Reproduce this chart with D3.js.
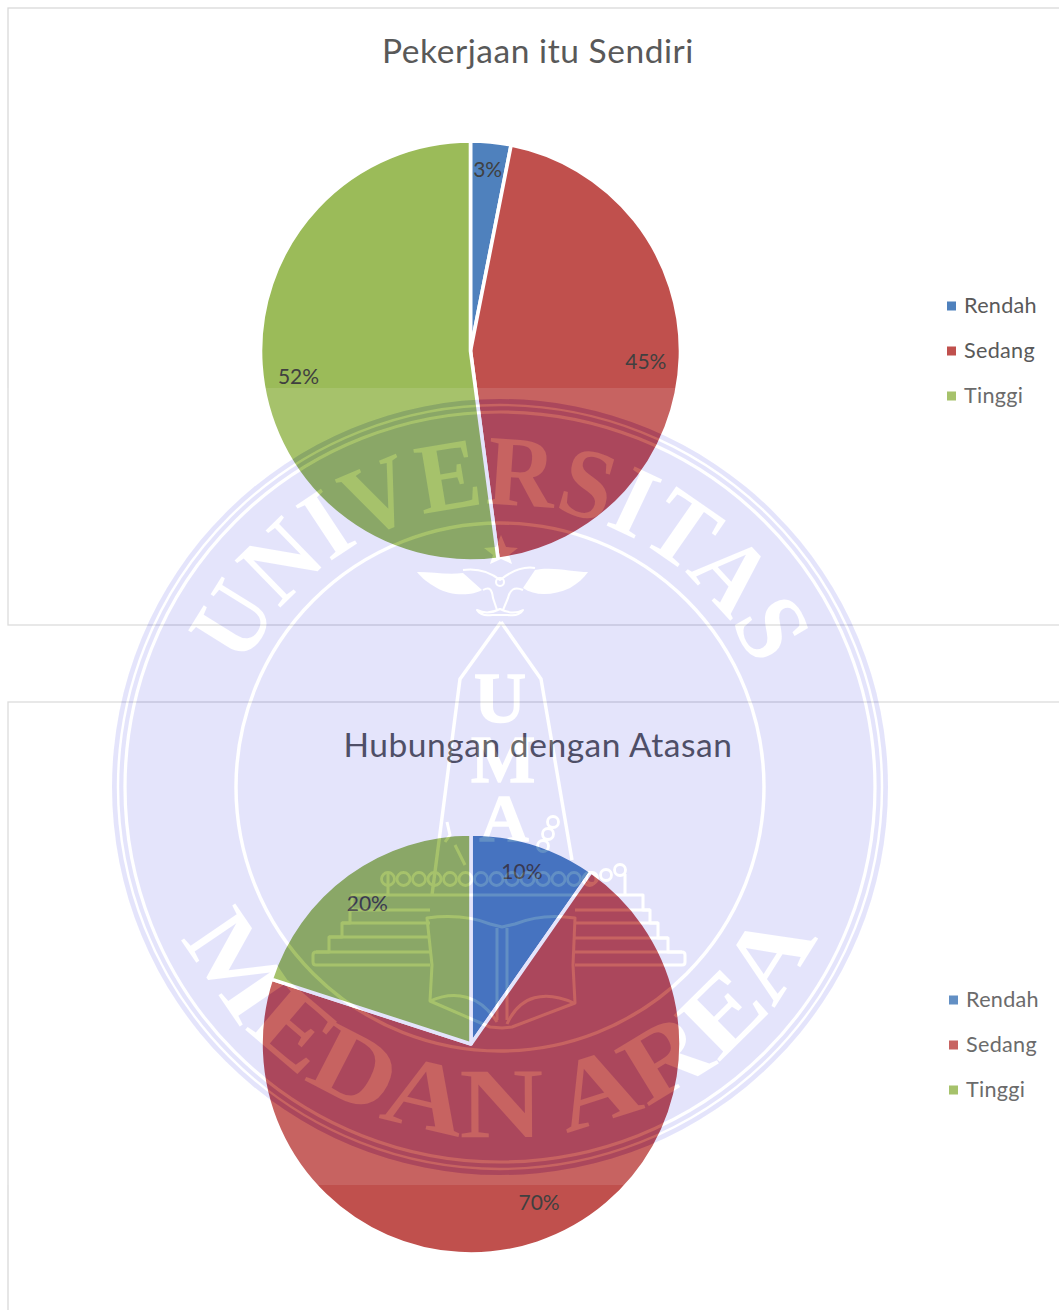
<!DOCTYPE html>
<html><head><meta charset="utf-8">
<script src="https://cdn.jsdelivr.net/npm/d3@7/dist/d3.min.js"></script>
<style>html,body{margin:0;padding:0;background:#fff}svg{display:block}text{font-family:Lato,sans-serif}</style>
</head><body><svg id="c" width="1059" height="1310"></svg>
<script>
const categories = ["Rendah","Sedang","Tinggi"];
const colors = ["#4f81bd","#c0504d","#9bbb59"];
const titleTop = "Pekerjaan itu Sendiri";
const valuesTop = [3.1,44.8,52.1];
const titleBottom = "Hubungan dengan Atasan";
const valuesBottom = [9.7,70.3,20.0];

const svg = d3.select("#c");
const W = 1059, H = 1310;

function chart(o){
  const g = svg.append("g");
  g.append("rect").attr("x",o.fx).attr("y",o.fy).attr("width",W+10-o.fx).attr("height",o.fh)
    .attr("fill","#fff").attr("stroke","#d9d9d9").attr("stroke-width",1.3);
  g.append("text").attr("x",538).attr("y",o.ty).attr("text-anchor","middle")
    .attr("font-size",33.5).attr("letter-spacing",0.55).attr("fill","#595959").text(o.title);
  const pie = d3.pie().sort(null).value(d=>d);
  const arc = d3.arc().innerRadius(0).outerRadius(o.r);
  const lab = d3.arc().innerRadius(o.r*0.84).outerRadius(o.r*0.84);
  const p = g.append("g").attr("transform",`translate(${o.cx},${o.cy})`);
  const arcs = pie(o.values);
  p.selectAll("path").data(arcs).join("path").attr("d",arc)
    .attr("fill",(d,i)=>colors[i]).attr("stroke","#fff").attr("stroke-width",3.6).attr("stroke-linejoin","round");
  p.selectAll("text").data(arcs).join("text")
    .attr("transform",(d,i)=>{const c=lab.centroid(d);return `translate(${c[0]+o.nudge[i][0]},${c[1]+o.nudge[i][1]})`;})
    .attr("text-anchor","middle").attr("dy","0.36em").attr("font-size",21)
    .attr("fill","#404040").text(d=>Math.round(d.data)+"%");
  const y = d3.scalePoint().domain(categories).range([o.ly,o.ly+90]);
  const l = g.append("g");
  l.selectAll("rect").data(categories).join("rect")
    .attr("x",o.lx).attr("y",d=>y(d)-4.5).attr("width",9).attr("height",9)
    .attr("fill",(d,i)=>colors[i]);
  l.selectAll("text").data(categories).join("text")
    .attr("x",o.lx+17).attr("y",d=>y(d)-0.5).attr("dy","0.36em")
    .attr("font-size",21.6).attr("letter-spacing",0.3).attr("fill","#595959").text(d=>d);
}
chart({fx:8,fy:8,fh:617,title:titleTop,ty:63,values:valuesTop,cx:470.5,cy:351,r:210,lx:947,ly:306,
  nudge:[[0,-6],[-1,5],[4,14]]});
chart({fx:8,fy:702,fh:700,title:titleBottom,ty:757,values:valuesBottom,cx:471,cy:1044,r:210,lx:949,ly:1000,
  nudge:[[-2,-4],[12,-9],[0,2]]});

// watermark overlay
const cx=500, cy=787;
const defs = svg.append("defs");
defs.append("path").attr("id","arcTop").attr("d",`M ${cx-282} ${cy} A 282 282 0 0 1 ${cx+282} ${cy}`);
defs.append("path").attr("id","arcBot").attr("d",`M ${cx-350} ${cy} A 350 350 0 0 0 ${cx+350} ${cy}`);

function details(g,c){
  const ring=(r,w)=>g.append("circle").attr("cx",cx).attr("cy",cy).attr("r",r).attr("fill","none").attr("stroke",c).attr("stroke-width",w);
  ring(382,2.4); ring(375,3.2); ring(264,3.4);
  const t=(id,s,len)=>g.append("text").attr("font-size",100).attr("font-weight","bold").attr("fill",c)
     .style("font-family","'Liberation Serif',serif")
     .append("textPath").attr("href","#"+id).attr("startOffset","50%").attr("text-anchor","middle")
     .attr("textLength",len).attr("lengthAdjust","spacingAndGlyphs").text(s);
  t("arcTop","UNIVERSITAS",640);
  t("arcBot","MEDAN AREA",790);
  const L=(d,w=3)=>g.append("path").attr("d",d).attr("fill","none").attr("stroke",c).attr("stroke-width",w).attr("stroke-linejoin","round");
  const F=d=>g.append("path").attr("d",d).attr("fill",c);
  // pencil
  L("M501 622 L541 679 L572 860 M501 622 L460 679 L432 895",3.4);
  // letters
  [["U",500,722,72],["M",503,782,68],["A",504,841,68]].forEach(([s,x,y,fs])=>g.append("text").attr("x",x).attr("y",y).attr("text-anchor","middle")
     .style("font-family","'Liberation Serif',serif").attr("font-weight","bold").attr("font-size",fs).attr("fill",c)
     .attr("stroke",c).attr("stroke-width",1.5).text(s));
  // star
  F("M501 535 L506 547 L518 548 L509 555 L512 564 L501 559 L490 564 L493 555 L484 548 L496 547 Z");
  // bird wings, body, tail
  F("M417 572 C432 572 448 575 463 573 L482 590 C472 596 450 596 437 588 C428 583 422 578 417 572 Z");
  F("M588 572 C572 572 552 566 535 570 L523 588 C535 596 552 596 570 588 C578 583 584 578 588 572 Z");
  L("M463 570 C478 568 490 572 500 580 C510 572 522 566 535 568 M483 590 C490 586 492 590 493 598 L497 610 M523 590 C514 586 510 590 508 598 L503 610",2);
  g.append("circle").attr("cx",500).attr("cy",582).attr("r",4).attr("fill","none").attr("stroke",c).attr("stroke-width",2);
  L("M477 610 C485 614 492 613 500 609 C508 613 516 614 523 610 C520 615 515 616 508 615 L492 615 C485 616 480 615 477 610 Z",2);
  // beads
  d3.range(388,590,15.5).forEach(x=>g.append("circle").attr("cx",x).attr("cy",879).attr("r",6.5).attr("fill","none").attr("stroke",c).attr("stroke-width",2.8));
  [[620,870],[606,875],[592,878],[553,822],[548,834],[543,846]].forEach(([x,y])=>g.append("circle").attr("cx",x).attr("cy",y).attr("r",5.5).attr("fill","none").attr("stroke",c).attr("stroke-width",2.8));
  L("M447 822 L450 835 L445 842 M455 845 L465 865",3);
  // stairs
  L("M388 874 V895 H625 M625 874 V895");
  L("M388 895 H352 V910 H350 V923 H342 V937 H329 V952 H316 Q313 952 313 955 V962 Q313 965 316 965 H430");
  L("M350 910 H430 M342 923 H430 M329 937 H430 M316 952 H430");
  L("M625 895 H643 V910 H650 V923 H658 V938 H668 V952 H682 Q685 952 685 955 V962 Q685 965 682 965 H575");
  L("M650 910 H575 M658 923 H575 M668 938 H575 M682 952 H575");
  // book
  L("M427 918 C450 915 470 916 490 924 L502 927 L515 924 C535 916 555 915 575 918 L573 965 L575 1003 L512 1027 L502 1028 L490 1027 L430 1001 L432 965 Z");
  L("M430 1001 C455 990 480 995 497 1022 M574 1003 C545 990 520 995 507 1024");
  L("M497 928 V1020 M507 928 V1020",3);
}
const m1 = defs.append("mask").attr("id","mLav").attr("maskUnits","userSpaceOnUse").attr("x",0).attr("y",0).attr("width",W).attr("height",H);
m1.append("rect").attr("width",W).attr("height",H).attr("fill","#000");
m1.append("circle").attr("cx",cx).attr("cy",cy).attr("r",388).attr("fill","#fff");
details(m1.append("g"),"#000");
const m2 = defs.append("mask").attr("id","mBand").attr("maskUnits","userSpaceOnUse").attr("x",0).attr("y",0).attr("width",W).attr("height",H);
m2.append("rect").attr("width",W).attr("height",H).attr("fill","#fff");
m2.append("circle").attr("cx",cx).attr("cy",cy).attr("r",388).attr("fill","#000");
details(m2.append("g"),"#fff");

svg.append("rect").attr("x",0).attr("y",388).attr("width",W).attr("height",797)
  .attr("fill","#fff").attr("opacity",0.11).attr("mask","url(#mBand)");
svg.append("rect").attr("x",0).attr("y",388).attr("width",W).attr("height",797)
  .attr("fill","rgb(0,0,225)").attr("opacity",0.1).attr("mask","url(#mLav)");
</script></body></html>
